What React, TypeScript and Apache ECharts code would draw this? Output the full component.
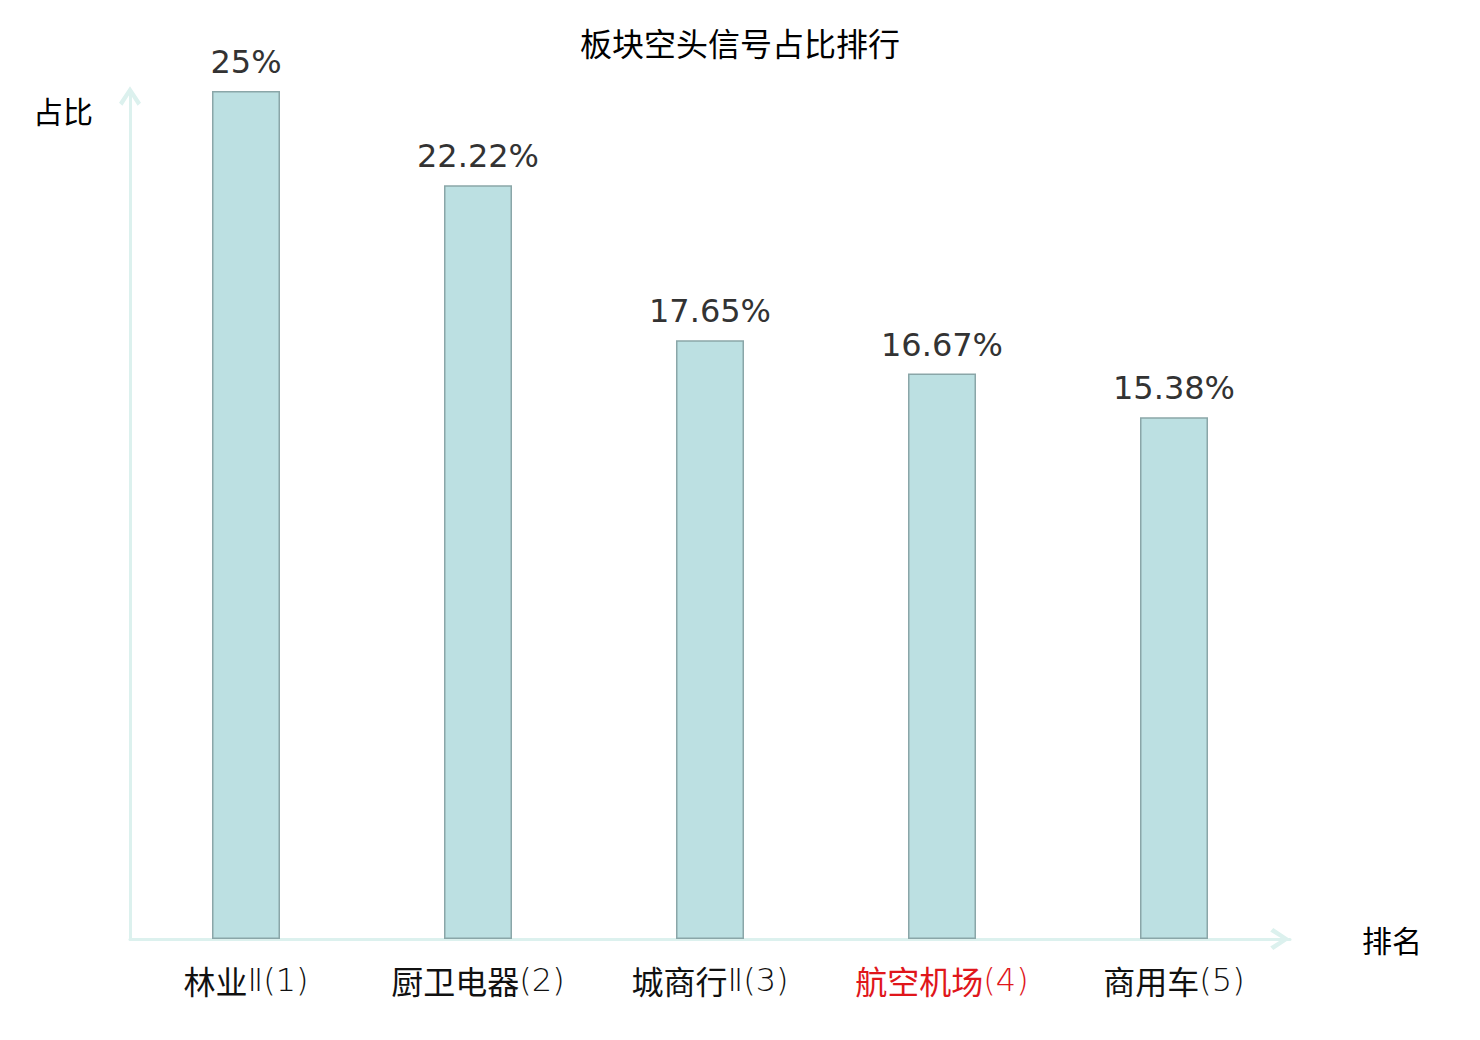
import React, { useEffect, useRef } from "react";
import * as echarts from "echarts";

const titleText = "板块空头信号占比排行";
const categories = ["林业Ⅱ(1)", "厨卫电器(2)", "城商行Ⅱ(3)", "航空机场(4)", "商用车(5)"];
const highlighted = ["航空机场(4)"];
const values = [25, 22.22, 17.65, 16.67, 15.38];
const yName = "占比";
const xName = "排名";

const chevron = "path://M11 0 L22 16.5 L18.6 19.6 L11 7.5 L3.4 19.6 L0 16.5 Z";
const cjk = "'Noto Sans CJK SC', sans-serif";
const thin = "'DejaVu Sans', 'Noto Sans CJK SC', sans-serif";
const red = "#e0161b";
const labelSize = 32;

export default function App() {
  const ref = useRef<HTMLDivElement>(null);
  useEffect(() => {
    document.body.style.margin = "0";
    const chart = echarts.init(ref.current!, null, { renderer: "svg" });
    const axisColor = "#dcf1ee";
    chart.setOption({
      animation: false,
      backgroundColor: "#ffffff",
      textStyle: { fontFamily: cjk },
      title: {
        text: titleText,
        left: "center",
        top: 21,
        textStyle: { fontSize: 32, fontWeight: "normal", color: "#000", fontFamily: cjk },
      },
      grid: { left: 130, top: 91, width: 1160, bottom: 101, containLabel: false },
      xAxis: {
        type: "category",
        data: categories,
        name: xName,
        nameLocation: "end",
        nameGap: 72,
        nameTextStyle: { fontSize: 30, color: "#000", fontFamily: cjk },
        axisLine: {
          show: true,
          symbol: ["none", chevron],
          symbolSize: [22, 20],
          symbolOffset: [0, -10],
          lineStyle: { color: axisColor, width: 3 },
        },
        axisTick: { show: false },
        axisLabel: {
          fontSize: labelSize,
          color: "#111",
          margin: 25,
          interval: 0,
          fontFamily: cjk,
          formatter: (v: string) => {
            const m = v.match(/^([\u4e00-\u9fff]+)(.*)$/);
            const hi = highlighted.includes(v);
            const a = hi ? "ar" : "a";
            const b = hi ? "br" : "b";
            if (!m) return `{${a}|${v}}`;
            return `{${a}|${m[1]}}{${b}|${m[2]}}`;
          },
          rich: {
            a: { fontSize: labelSize, color: "#111", fontFamily: cjk },
            b: { fontSize: labelSize, color: "#111", fontFamily: thin, fontWeight: 200 },
            ar: { fontSize: labelSize, color: red, fontFamily: cjk },
            br: { fontSize: labelSize, color: red, fontFamily: thin, fontWeight: 200 },
          },
        },
        splitLine: { show: false },
      },
      yAxis: {
        type: "value",
        min: 0,
        max: 25,
        name: yName,
        nameLocation: "end",
        nameGap: -19,
        nameTextStyle: {
          fontSize: 30,
          color: "#000",
          fontFamily: cjk,
          align: "right",
          verticalAlign: "middle",
          padding: [0, 37, 0, 0],
        },
        axisLine: {
          show: true,
          symbol: ["none", chevron],
          symbolSize: [22, 20],
          symbolOffset: [0, -5],
          lineStyle: { color: axisColor, width: 3 },
        },
        axisTick: { show: false },
        axisLabel: { show: false },
        splitLine: { show: false },
      },
      series: [
        {
          type: "bar",
          data: values,
          barWidth: 68,
          itemStyle: { color: "#bce0e2", borderColor: "#8aa6a8", borderWidth: 1.5 },
          label: {
            show: true,
            position: "top",
            distance: 13,
            fontSize: 32,
            fontFamily: "'DejaVu Sans', sans-serif",
            color: "#333",
            formatter: (p: any) => p.value + "%",
          },
        },
      ],
    });
    return () => chart.dispose();
  }, []);
  return <div ref={ref} style={{ width: 1480, height: 1040 }} />;
}
